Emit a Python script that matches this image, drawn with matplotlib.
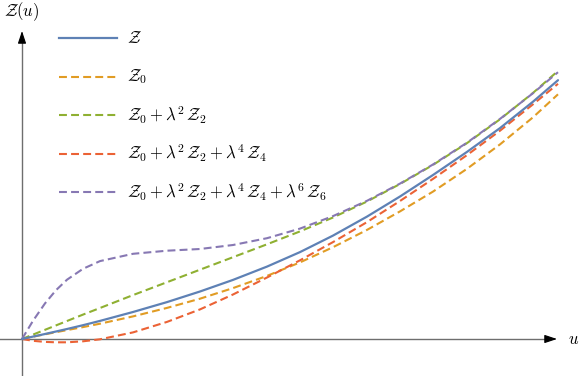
import matplotlib
matplotlib.use("Agg")
import matplotlib.pyplot as plt
from matplotlib.lines import Line2D

plt.rcParams['mathtext.fontset'] = 'cm'

# values (arbitrary units, origin at the axes crossing)
u = [0, 11, 23, 34, 45, 61, 78, 111, 145, 178, 211, 245, 278, 311, 345, 378, 411, 445, 478, 511, 536]
z_exact = [0, 2.4, 5.0, 7.5, 10.0, 13.8, 18.1, 27.0, 36.9, 47.5, 59.1, 72.4, 86.9, 103.4, 122.4,
           142.5, 164.0, 187.1, 210.9, 237.3, 258.8]
z_0 = [0, 2.3, 4.7, 6.8, 8.9, 11.9, 15.3, 22.6, 31.1, 40.3, 50.9, 63.1, 76.6, 91.8, 109.1,
       127.6, 147.4, 170.2, 194.6, 221.7, 244.7]
z_02 = [0, 4.4, 9.2, 13.6, 18.0, 24.4, 31.0, 43.9, 56.8, 69.3, 81.8, 94.7, 107.6, 121.5, 137.5,
        155.0, 174.1, 195.9, 219.7, 246.1, 268.1]
z_024 = [0, -1.8, -2.9, -3.3, -3.3, -2.3, -0.3, 6.6, 17.1, 29.6, 44.5, 61.5, 78.7, 96.9, 116.9,
         138.0, 160.1, 183.9, 208.3, 234.7, 255.2]
z_0246 = [0, 18.2, 35.6, 48.8, 59.3, 70.2, 77.9, 85.2, 88.3, 90.0, 94.0, 100.8, 110.4, 122.9, 138.2,
          155.4, 174.5, 196.3, 220.1, 245.8, 266.8]

labels = [r'$\mathcal{Z}$',
          r'$\mathcal{Z}_0$',
          r'$\mathcal{Z}_0+\lambda^2\,\mathcal{Z}_2$',
          r'$\mathcal{Z}_0+\lambda^2\,\mathcal{Z}_2+\lambda^4\,\mathcal{Z}_4$',
          r'$\mathcal{Z}_0+\lambda^2\,\mathcal{Z}_2+\lambda^4\,\mathcal{Z}_4+\lambda^6\,\mathcal{Z}_6$']
colors = ['#5E81B5', '#E19C24', '#8FB032', '#EB6235', '#8778B3']
series = [z_exact, z_0, z_02, z_024, z_0246]

fig = plt.figure(figsize=(5.81, 3.76), dpi=100)
ax = fig.add_axes([0, 0, 1, 1])
ax.set_xlim(-22, 559)
ax.set_ylim(-37, 339)
ax.axis('off')

# axes with arrow heads
ax.plot([-22, 526], [0, 0], color='#6e6e6e', lw=1.0, zorder=1)
ax.plot([0, 0], [-37, 300], color='#6e6e6e', lw=1.0, zorder=1)
head = dict(arrowstyle='-|>,head_length=0.75,head_width=0.25', color='black',
            lw=0.8, shrinkA=0, shrinkB=0)
ax.annotate('', xy=(535, 0), xytext=(524, 0), arrowprops=head)
ax.annotate('', xy=(0, 308), xytext=(0, 297), arrowprops=head)
ax.text(552, 0, r'$u$', fontsize=12, ha='center', va='center')
ax.text(-1, 327, r'$\mathcal{Z}(u)$', fontsize=12, ha='center', va='center')

for i, (ys, c) in enumerate(zip(series, colors)):
    if i == 0:
        ax.plot(u, ys, color=c, lw=1.6, zorder=3, solid_capstyle='round')
    else:
        ax.plot(u, ys, color=c, lw=1.5, dashes=(3.8, 2.0), zorder=2)

# legend drawn by hand so rows are evenly spaced
W, H = 581, 376
for i, (lab, c) in enumerate(zip(labels, colors)):
    yy = 1 - (38 + i * 38.5) / H
    ln = Line2D([59 / W, 117 / W], [yy, yy], transform=fig.transFigure, color=c,
                lw=1.6 if i == 0 else 1.5)
    if i > 0:
        ln.set_dashes((3.8, 2.0))
    fig.add_artist(ln)
    fig.text(127 / W, yy, lab, fontsize=12, ha='left', va='center')

fig.savefig('out.png', dpi=100)
